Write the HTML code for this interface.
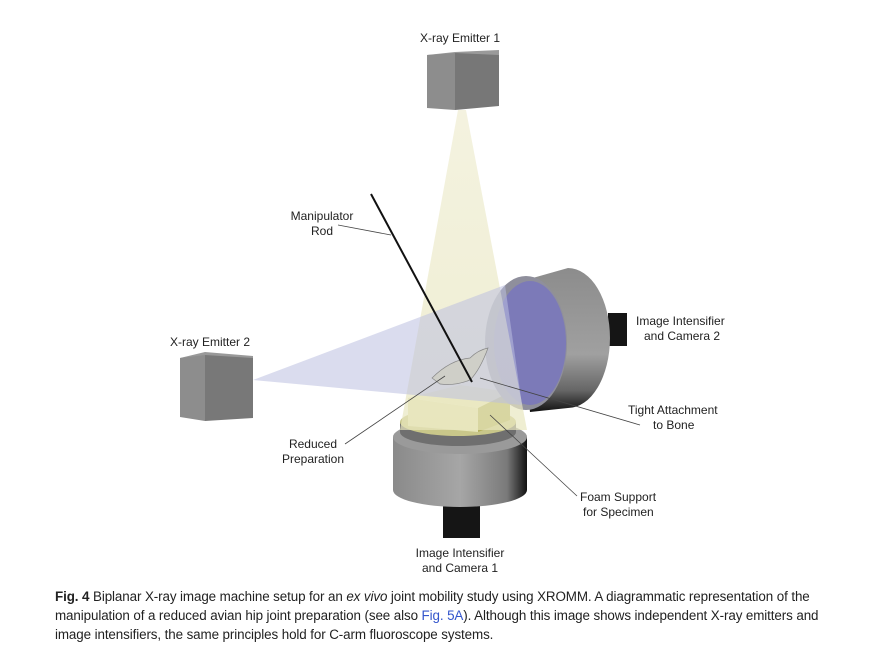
<!DOCTYPE html>
<html><head><meta charset="utf-8"><style>
html,body{margin:0;padding:0;background:#fff;}
.w{position:relative;width:880px;height:671px;overflow:hidden;font-family:"Liberation Sans",sans-serif;}
svg text{font-family:"Liberation Sans",sans-serif;font-size:12px;fill:#222;}
.cap{position:absolute;left:55px;top:587px;width:800px;font-size:13.4px;line-height:19px;color:#222;font-family:"Liberation Sans",sans-serif;letter-spacing:-0.1px;}
</style></head><body><div class="w">
<svg width="880" height="671" viewBox="0 0 880 671">
<defs>
<linearGradient id="cyl" x1="0" x2="1" y1="0" y2="0">
<stop offset="0" stop-color="#8a8a8a"/><stop offset="0.5" stop-color="#a6a6a6"/><stop offset="0.85" stop-color="#7a7a7a"/><stop offset="1" stop-color="#111"/></linearGradient>
<linearGradient id="cyl2" x1="0" x2="0" y1="0" y2="1">
<stop offset="0" stop-color="#8c8c8c"/><stop offset="0.6" stop-color="#a0a0a0"/><stop offset="0.85" stop-color="#666"/><stop offset="1" stop-color="#111"/></linearGradient>
<linearGradient id="cone" x1="0" x2="0" y1="0" y2="1">
<stop offset="0" stop-color="#efedd2"/><stop offset="1" stop-color="#e8e6bf"/></linearGradient>
</defs>
<!-- bottom intensifier -->
<rect x="443" y="490" width="37" height="48" fill="#151515"/>
<path d="M393 437 L393 490 A67 17 0 0 0 527 490 L527 437 Z" fill="url(#cyl)"/>
<ellipse cx="460" cy="437" rx="67" ry="17" fill="#9a9a9a"/>
<path d="M400 422 L400 432 A58 14 0 0 0 516 432 L516 422 Z" fill="#6f6f6f"/>
<ellipse cx="458" cy="422" rx="58" ry="14" fill="#c9c78a"/>
<!-- foam block -->
<polygon points="408,398 460,385 510,392 478,408" fill="#eeedc6"/>
<polygon points="408,398 478,408 478,432 408,426" fill="#e6e5b8"/>
<polygon points="478,408 510,392 510,420 478,432" fill="#b3b05a"/>
<!-- intensifier 2 -->
<rect x="608" y="313" width="19" height="33" fill="#151515"/>
<path d="M515 283 L568 268 A42 70 0 0 1 568 408 L530 412 Z" fill="url(#cyl2)"/>
<ellipse cx="526" cy="343" rx="41" ry="67" fill="#8f8f9c"/>
<ellipse cx="530" cy="343" rx="36" ry="62" fill="#7c7ab8"/>
<!-- cone -->
<polygon points="458,110 466,110 527,430 400,430" fill="url(#cone)" opacity="0.7"/>
<!-- blue beam -->
<polygon points="253,380 505,285 522,405" fill="#bcbfe0" opacity="0.55"/>
<!-- specimen -->
<path d="M432 378 Q450 360 470 358 Q478 350 488 348 Q480 370 470 380 Q455 386 440 384 Z" fill="#cfcfc8" stroke="#888" stroke-width="0.7"/>
<!-- emitter 1 -->
<polygon points="427,55 455,52 499,50 499,55 455,55" fill="#9a9a9a"/>
<polygon points="427,55 455,53 455,110 427,108" fill="#8d8d8d"/>
<polygon points="455,53 499,55 499,106 455,110" fill="#777"/>
<!-- emitter 2 -->
<polygon points="180,358 205,352 253,356 253,360 205,360" fill="#999"/>
<polygon points="180,358 205,355 205,421 180,417" fill="#8d8d8d"/>
<polygon points="205,355 253,358 253,418 205,421" fill="#787878"/>
<!-- rod -->
<line x1="371" y1="194" x2="472" y2="382" stroke="#111" stroke-width="2"/>
<!-- leaders -->
<g stroke="#444" stroke-width="0.8">
<line x1="338" y1="225" x2="391" y2="235"/>
<line x1="345" y1="444" x2="445" y2="376"/>
<line x1="480" y1="378" x2="640" y2="425"/>
<line x1="490" y1="415" x2="577" y2="496"/>
</g>
<text x="460" y="42" text-anchor="middle">X-ray Emitter 1</text>
<text x="322" y="220" text-anchor="middle">Manipulator</text>
<text x="322" y="235" text-anchor="middle">Rod</text>
<text x="210" y="346" text-anchor="middle">X-ray Emitter 2</text>
<text x="636" y="325">Image Intensifier</text>
<text x="644" y="340">and Camera 2</text>
<text x="628" y="414">Tight Attachment</text>
<text x="653" y="429">to Bone</text>
<text x="313" y="448" text-anchor="middle">Reduced</text>
<text x="313" y="463" text-anchor="middle">Preparation</text>
<text x="580" y="501">Foam Support</text>
<text x="583" y="516">for Specimen</text>
<text x="460" y="557" text-anchor="middle">Image Intensifier</text>
<text x="460" y="572" text-anchor="middle">and Camera 1</text>
</svg>
<div class="cap"><b>Fig. 4</b> Biplanar X-ray image machine setup for an <i>ex vivo</i> joint mobility study using XROMM. A diagrammatic representation of the manipulation of a reduced avian hip joint preparation (see also <span style="color:#3355cc">Fig. 5A</span>). Although this image shows independent X-ray emitters and image intensifiers, the same principles hold for C-arm fluoroscope systems.</div>
</div></body></html>
